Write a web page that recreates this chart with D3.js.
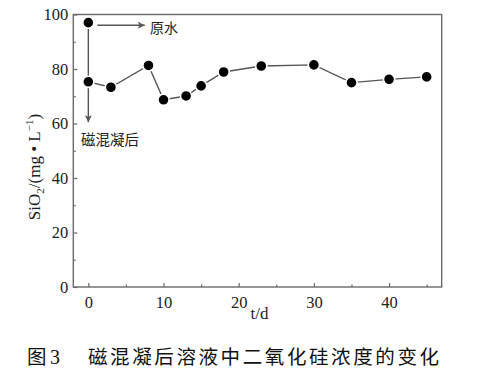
<!DOCTYPE html>
<html><head><meta charset="utf-8">
<script src="https://cdn.jsdelivr.net/npm/d3@7"></script>
<style>body{margin:0;background:#fff}svg{display:block}</style>
</head><body>
<svg id="c" width="479" height="372"></svg>
<script>
const days = [0, 3, 8, 10, 13, 15, 18, 23, 30, 35, 40, 45];
const silica = [75.3, 73.3, 81.3, 68.7, 70.1, 73.8, 78.9, 81.1, 81.5, 75.0, 76.2, 77.1];
const rawDay = 0, rawValue = 97.0;
const xTicks = [0, 10, 20, 30, 40];
const xMinor = [5, 15, 25, 35, 45];
const yTicks = [0, 20, 40, 60, 80, 100];
const yMinor = [10, 30, 50, 70, 90];
const arrowEnd = 60.5;   // value where the down arrow ends
const rawArrowEnd = 7.5; // day where the right arrow ends

const svg = d3.select('#c');
const L = 73.3, R = 441.7, T = 14.5, B = 287;
const x = d3.scaleLinear().domain([-2, 47]).range([L, R]);
const y = d3.scaleLinear().domain([0, 100]).range([B, T]);
const serif = '"Liberation Serif","Times New Roman",serif';
const cjk = '"Noto Sans CJK SC","Noto Serif CJK SC",sans-serif';
const axisCol = '#6a6a6a';

const defs = svg.append('defs');
defs.append('marker').attr('id', 'ah').attr('viewBox', '0 0 10 10')
  .attr('refX', 10).attr('refY', 5).attr('markerWidth', 10).attr('markerHeight', 7)
  .attr('markerUnits', 'userSpaceOnUse').attr('orient', 'auto')
  .append('path').attr('d', 'M0,0L10,5L0,10L2.5,5Z').attr('fill', '#555');

// frame
svg.append('rect').attr('x', L).attr('y', T).attr('width', R - L).attr('height', B - T)
  .attr('fill', 'none').attr('stroke', axisCol).attr('stroke-width', 1.4);

// axes with inward ticks
const gx = svg.append('g').attr('transform', `translate(0,${B})`)
  .call(d3.axisBottom(x).tickValues(xTicks).tickSizeInner(-4).tickSizeOuter(0).tickPadding(9));
const gxm = svg.append('g').attr('transform', `translate(0,${B})`)
  .call(d3.axisBottom(x).tickValues(xMinor).tickSizeInner(-2.5).tickSizeOuter(0).tickFormat(''));
const gy = svg.append('g').attr('transform', `translate(${L},0)`)
  .call(d3.axisLeft(y).tickValues(yTicks).tickSizeInner(-4).tickSizeOuter(0).tickPadding(5));
const gym = svg.append('g').attr('transform', `translate(${L},0)`)
  .call(d3.axisLeft(y).tickValues(yMinor).tickSizeInner(-2.5).tickSizeOuter(0).tickFormat(''));
[gx, gxm, gy, gym].forEach(g => {
  g.select('.domain').remove();
  g.selectAll('line').attr('stroke', axisCol).attr('stroke-width', 1.2);
  g.selectAll('text').attr('font-family', serif).attr('font-size', 16.5).attr('fill', '#222');
});

// axis titles
svg.append('text').attr('x', (L + R) / 2 + 2).attr('y', 319).attr('text-anchor', 'middle')
  .attr('font-family', serif).attr('font-size', 17).attr('fill', '#222').text('t/d');
const yl = svg.append('text').attr('transform', `translate(40,${167}) rotate(-90)`)
  .attr('text-anchor', 'middle').attr('font-family', serif).attr('font-size', 17).attr('fill', '#222');
yl.append('tspan').text('SiO');
yl.append('tspan').attr('font-size', 11).attr('dy', 4).text('2');
yl.append('tspan').attr('dy', -4).text('/(mg \u2022 L');
yl.append('tspan').attr('font-size', 11).attr('dy', -7).text('\u22121');
yl.append('tspan').attr('dy', 7).text(')');

// annotation arrows
svg.append('line').attr('x1', x(rawDay)).attr('y1', y(rawValue)).attr('x2', x(rawDay)).attr('y2', y(arrowEnd))
  .attr('stroke', '#555').attr('stroke-width', 1.4).attr('marker-end', 'url(#ah)');
svg.append('line').attr('x1', x(rawDay) + 9).attr('y1', y(rawValue) + 2.5).attr('x2', x(rawArrowEnd)).attr('y2', y(rawValue) + 2.5)
  .attr('stroke', '#555').attr('stroke-width', 1.4).attr('marker-end', 'url(#ah)');
svg.append('text').attr('x', 150).attr('y', 33).attr('font-family', cjk).attr('font-size', 14)
  .attr('fill', '#222').text('原水');
svg.append('text').attr('x', 81).attr('y', 145).attr('font-family', cjk).attr('font-size', 14.5)
  .attr('fill', '#222').text('磁混凝后');

// series line
const pts = days.map((d, i) => [d, silica[i]]);
svg.append('path').datum(pts)
  .attr('d', d3.line().x(d => x(d[0])).y(d => y(d[1])))
  .attr('fill', 'none').attr('stroke', '#555').attr('stroke-width', 1.4);

// markers
const allPts = [[rawDay, rawValue]].concat(pts);
svg.append('g').selectAll('circle').data(allPts).join('circle')
  .attr('cx', d => x(d[0])).attr('cy', d => y(d[1])).attr('r', 5.6)
  .attr('fill', '#000').attr('stroke', '#fff').attr('stroke-width', 1.6);

// caption
svg.append('text').attr('x', 27).attr('y', 364).attr('font-family', cjk).attr('font-size', 19.5)
  .attr('fill', '#111').text('图');
svg.append('text').attr('x', 50).attr('y', 364).attr('font-family', serif).attr('font-size', 20)
  .attr('fill', '#111').text('3');
svg.append('text').attr('x', 88).attr('y', 364).attr('font-family', cjk).attr('font-size', 19.5)
  .attr('letter-spacing', 2.6).attr('fill', '#111').text('磁混凝后溶液中二氧化硅浓度的变化');
</script>
</body></html>
